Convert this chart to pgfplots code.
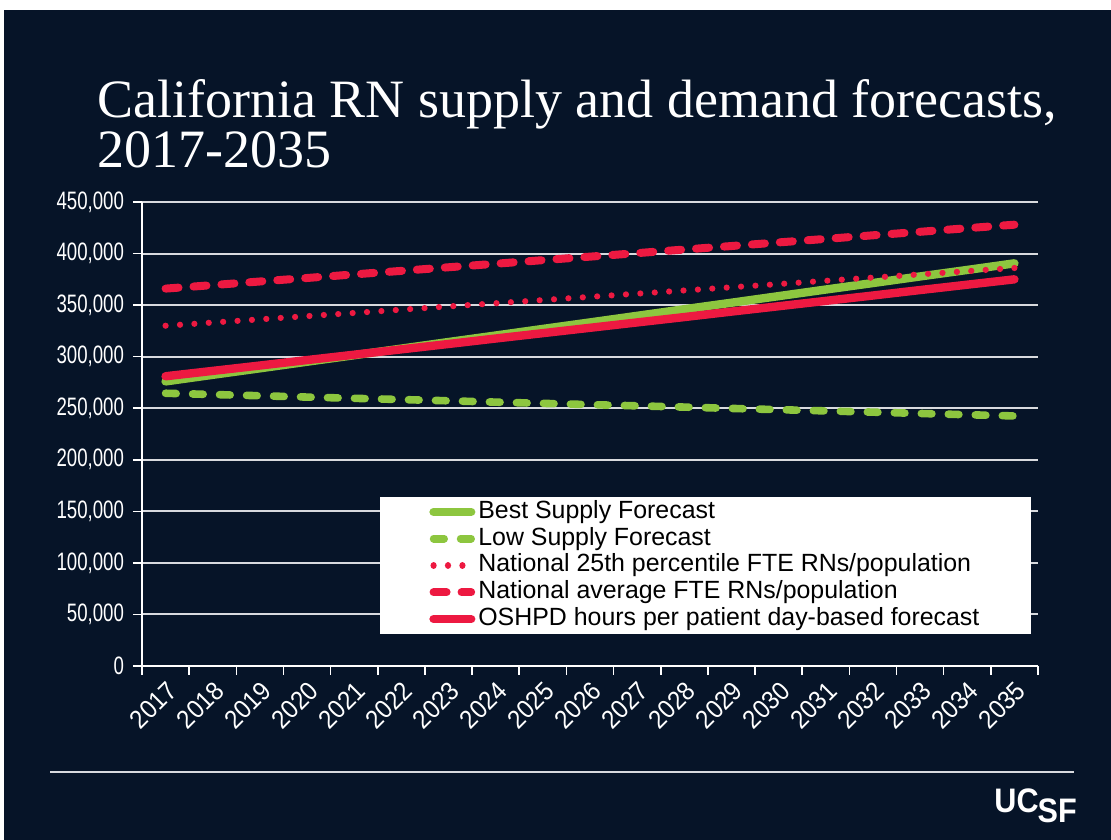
\documentclass[border=0pt]{standalone}
\usepackage{fontspec}
\setmainfont{Liberation Sans}
\newfontfamily\titlefont{Liberation Serif}
\newfontfamily\ytickfont{Liberation Sans}[FakeStretch=0.74]
\newfontfamily\xtickfont{Liberation Sans}[FakeStretch=0.92]
\newfontfamily\logofont{Liberation Sans}[FakeStretch=0.9]
\usepackage{pgfplots}
\usepackage{pgfplotstable}
\pgfplotsset{compat=1.18}
\definecolor{navy}{HTML}{061428}
\definecolor{lgreen}{HTML}{8DC63F}
\definecolor{crim}{HTML}{ED1941}
\definecolor{gridc}{HTML}{D8DADE}

\pgfplotstableread{
x best low n25 navg oshpd
0 276000 264500 330000 366000 281000
1 282400 263300 333100 369400 286200
2 288700 262100 336200 372900 291400
3 295100 260800 339300 376300 296700
4 301400 259600 342400 379800 301900
5 307800 258400 345600 383200 307100
6 314200 257200 348700 386700 312300
7 320500 255900 351800 390100 317600
8 326900 254700 354900 393600 322800
9 333200 253500 358000 397000 328000
10 339600 252300 361100 400400 333200
11 346000 251100 364200 403900 338400
12 352300 249800 367300 407300 343700
13 358700 248600 370400 410800 348900
14 365100 247400 373600 414200 354100
15 371400 246200 376700 417700 359300
16 377800 244900 379800 421100 364600
17 384100 243700 382900 424600 369800
18 390500 242500 386000 428000 375000
}\data

\tikzset{
  bestst/.style={draw=lgreen, line width=4.2bp, line cap=round},
  lowst/.style={draw=lgreen, line width=3.8bp, line cap=round, dash pattern=on 5.3bp off 8.2bp},
  n25st/.style={draw=crim, line width=3.1bp, line cap=round, dash pattern=on 0.01bp off 7.2bp},
  navgst/.style={draw=crim, line width=4bp, line cap=round, dash pattern=on 6.5bp off 7.5bp},
  oshst/.style={draw=crim, line width=4.2bp, line cap=round},
}

\begin{document}
\begin{tikzpicture}
\useasboundingbox (0,0) rectangle (555.5bp,420bp);
\fill[white] (0,0) rectangle (555.5bp,420bp);
\fill[navy] (2bp,0) rectangle (555.5bp,415bp);
\node[anchor=base west, text=white, inner sep=0, font=\titlefont\fontsize{27bp}{32bp}\selectfont] at (48.5bp,361bp) {California RN supply and demand forecasts,};
\node[anchor=base west, text=white, inner sep=0, font=\titlefont\fontsize{27bp}{32bp}\selectfont] at (48.5bp,336bp) {2017-2035};
\draw[gridc, line width=1bp] (25bp,34bp) -- (537bp,34bp);
\node[anchor=base west, text=white, inner sep=0, font=\logofont\bfseries\fontsize{17bp}{17bp}\selectfont] at (497bp,14bp) {UC\kern-0.5bp\raisebox{-5bp}{SF}};

\begin{axis}[
  at={(71bp,87bp)}, anchor=south west,
  scale only axis, width=448bp, height=232bp,
  xmin=-0.5, xmax=18.5, ymin=0, ymax=450000,
  axis x line*=bottom, axis y line*=left,
  axis line style={white, line width=1bp, -},
  ytick={0,50000,...,450000},
  ymajorgrids, grid style={gridc, line width=1bp},
  scaled y ticks=false,
  yticklabel style={/pgf/number format/fixed, /pgf/number format/1000 sep={,}, /pgf/number format/assume math mode=true},
  tick align=outside,
  major tick length=4.5bp, minor tick length=4.5bp,
  tick style={white, line width=0.8bp},
  xtick={0,...,18},
  xticklabels={2017,2018,2019,2020,2021,2022,2023,2024,2025,2026,2027,2028,2029,2030,2031,2032,2033,2034,2035},
  major x tick style={draw=none},
  minor xtick={-0.5,0.5,...,18.5},
  x tick label style={rotate=45, anchor=north east, inner sep=1.5bp, text=white, font=\xtickfont\fontsize{13bp}{13bp}\selectfont},
  y tick label style={text=white, xshift=-1bp, font=\ytickfont\fontsize{12.6bp}{12.6bp}\selectfont},
  legend image code/.code={\draw[#1] (2.1bp,0bp) -- (20.9bp,0bp); \path[draw=none] (0bp,0bp) -- (23bp,0bp);},
  legend style={at={(0.2656,0.364)}, anchor=north west, fill=white, draw=none,
    inner xsep=24.5bp, inner ysep=0.5bp, row sep=0pt,
    font=\fontsize{12.45bp}{13bp}\selectfont, text=black,
    nodes={inner xsep=1.5bp, inner ysep=0.5bp, text height=9.4bp, text depth=3bp},
    cells={anchor=west}},
]
\addplot[bestst] table[x=x, y=best] {\data};
\addlegendentry{Best Supply Forecast}
\addplot[lowst] table[x=x, y=low] {\data};
\addlegendentry{Low Supply Forecast}
\addplot[n25st] table[x=x, y=n25] {\data};
\addlegendentry{National 25th percentile FTE RNs/population}
\addplot[navgst] table[x=x, y=navg] {\data};
\addlegendentry{National average FTE RNs/population}
\addplot[oshst] table[x=x, y=oshpd] {\data};
\addlegendentry{OSHPD hours per patient day-based forecast}
\end{axis}
\end{tikzpicture}
\end{document}
